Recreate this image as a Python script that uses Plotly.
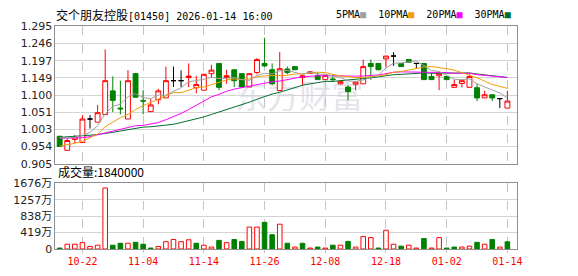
import plotly.graph_objects as go
import numpy as np

dates = ["10-17","10-20","10-21","10-22","10-23","10-24","10-27","10-28","10-30","10-31",
         "11-03","11-04","11-05","11-06","11-07","11-10","11-11","11-12","11-13","11-14",
         "11-17","11-18","11-19","11-20","11-21","11-24","11-25","11-26","11-27","11-28",
         "12-01","12-02","12-03","12-04","12-05","12-08","12-09","12-10","12-11","12-12",
         "12-15","12-16","12-17","12-18","12-19","12-22","12-23","12-24","12-29","12-30",
         "12-31","01-02","01-05","01-06","01-07","01-08","01-09","01-12","01-13","01-14"]

opens = [0.983,0.943,0.974,0.965,1.032,1.023,1.045,1.112,1.063,1.032,
         1.161,1.084,1.053,1.087,1.092,1.141,1.141,1.150,1.121,1.114,
         1.161,1.190,1.150,1.172,1.161,1.123,1.164,1.190,1.172,1.113,
         1.174,1.181,1.150,1.162,1.156,1.144,1.146,1.132,1.123,1.131,
         1.132,1.190,1.190,1.203,1.211,1.190,1.201,1.190,1.190,1.153,
         1.155,1.153,1.122,1.133,1.122,1.121,1.092,1.101,1.090,1.063]
highs = [0.983,0.978,0.987,1.043,1.043,1.072,1.230,1.153,1.141,1.171,
         1.163,1.114,1.089,1.118,1.181,1.181,1.170,1.190,1.155,1.161,
         1.186,1.190,1.172,1.172,1.161,1.161,1.205,1.263,1.190,1.222,
         1.181,1.181,1.159,1.168,1.164,1.159,1.159,1.141,1.128,1.139,
         1.201,1.201,1.190,1.211,1.222,1.190,1.201,1.190,1.190,1.162,
         1.162,1.153,1.144,1.141,1.159,1.132,1.112,1.101,1.090,1.112]
lows = [0.954,0.943,0.963,0.965,1.005,1.023,1.045,1.052,1.045,1.032,
        1.094,1.045,1.053,1.074,1.092,1.123,1.123,1.123,1.105,1.114,
        1.150,1.114,1.132,1.123,1.123,1.123,1.159,1.180,1.128,1.113,
        1.159,1.172,1.128,1.160,1.144,1.144,1.137,1.130,1.085,1.114,
        1.132,1.144,1.172,1.180,1.183,1.181,1.193,1.175,1.144,1.144,
        1.114,1.144,1.122,1.122,1.122,1.083,1.092,1.083,1.063,1.063]
closes = [0.954,0.971,0.981,1.032,1.032,1.050,1.141,1.085,1.061,1.141,
          1.094,1.083,1.072,1.112,1.141,1.141,1.141,1.154,1.130,1.159,
          1.171,1.122,1.155,1.141,1.123,1.161,1.201,1.183,1.132,1.175,
          1.164,1.172,1.155,1.166,1.144,1.156,1.144,1.139,1.110,1.137,
          1.181,1.181,1.172,1.211,1.211,1.181,1.193,1.190,1.144,1.144,
          1.162,1.144,1.130,1.141,1.153,1.092,1.101,1.092,1.090,1.083]

ma5 = [0.979,0.978,0.980,0.985,0.994,1.013,1.047,1.068,1.074,1.096,
       1.104,1.093,1.090,1.100,1.100,1.110,1.121,1.138,1.141,1.145,
       1.151,1.147,1.148,1.150,1.144,1.142,1.156,1.162,1.160,1.169,
       1.170,1.164,1.159,1.165,1.160,1.159,1.154,1.150,1.140,1.139,
       1.143,1.151,1.157,1.177,1.191,1.191,1.194,1.197,1.184,1.170,
       1.167,1.157,1.145,1.144,1.146,1.132,1.123,1.116,1.106,1.092]
ma10 = [0.955,0.958,0.963,0.969,0.978,0.989,1.010,1.024,1.036,1.045,
        1.059,1.070,1.079,1.087,1.098,1.107,1.107,1.114,1.121,1.123,
        1.130,1.135,1.143,1.146,1.144,1.146,1.152,1.155,1.155,1.157,
        1.156,1.160,1.160,1.163,1.165,1.164,1.159,1.154,1.153,1.149,
        1.151,1.152,1.154,1.158,1.165,1.167,1.172,1.177,1.180,1.181,
        1.179,1.175,1.171,1.164,1.158,1.149,1.140,1.130,1.125,1.119]
ma20 = [0.977,0.977,0.978,0.979,0.982,0.987,0.993,0.998,1.004,1.009,
        1.013,1.014,1.017,1.022,1.030,1.038,1.048,1.059,1.071,1.084,
        1.095,1.102,1.111,1.117,1.121,1.127,1.130,1.135,1.138,1.140,
        1.143,1.148,1.152,1.154,1.155,1.155,1.156,1.155,1.154,1.153,
        1.154,1.156,1.157,1.161,1.165,1.166,1.166,1.166,1.166,1.165,
        1.165,1.164,1.162,1.161,1.162,1.158,1.156,1.154,1.153,1.150]
ma30 = [0.980,0.981,0.982,0.984,0.986,0.988,0.990,0.994,0.998,1.002,
        1.006,1.009,1.010,1.012,1.014,1.017,1.022,1.027,1.032,1.038,
        1.045,1.052,1.058,1.064,1.072,1.080,1.088,1.096,1.103,1.108,
        1.115,1.122,1.128,1.132,1.136,1.139,1.139,1.141,1.143,1.143,
        1.146,1.149,1.152,1.156,1.158,1.159,1.161,1.162,1.163,1.162,
        1.162,1.163,1.162,1.162,1.163,1.160,1.157,1.154,1.153,1.150]

# volume in 万股
volumes = [24,121,121,162,65,97,1555,97,146,146,
           170,121,24,65,186,243,186,235,146,97,
           49,219,162,243,194,559,559,680,364,632,
           146,49,146,24,49,24,97,97,194,49,
           316,291,24,478,121,73,97,24,267,24,
           291,24,49,49,73,170,121,243,49,184]
vol_up = [0,1,1,1,1,1,1,0,0,1,
          0,0,0,1,1,1,1,1,0,1,
          1,0,1,0,0,1,1,0,0,1,
          0,1,0,1,0,1,0,1,0,1,
          1,1,0,1,1,0,1,1,0,1,
          1,0,0,1,1,0,1,0,1,0]

price_ticklabels = ["0.905","0.954","1.003","1.051","1.100","1.149","1.197","1.246","1.295"]
vol_ticklabels = ["0","419万","838万","1257万","1676万"]
date_ticks = ["10-22","11-04","11-14","11-26","12-08","12-18","01-02","01-14"]
title_name = "交个朋友控股"
title_rest = "[01450] 2026-01-14 16:00"
vol_title = "成交量:1840000"
ma_names = ["5PMA", "10PMA", "20PMA", "30PMA"]

RED = "#ff0000"
GREEN = "#008000"
MA_COLORS = ["#a0a0a0", "#f0a000", "#ff00ff", "#006f2f"]
W, H = 578, 276

def px_y(p):
    return 1 - p / H

n = len(dates)
up = [i for i in range(n) if closes[i] > opens[i]]
down = [i for i in range(n) if closes[i] < opens[i]]
doji = [i for i in range(n) if closes[i] == opens[i]]

def sub(lst, idx):
    return [lst[i] for i in idx]

fig = go.Figure()

def candle(idx, inc_line, inc_fill, dec_line, dec_fill):
    fig.add_trace(go.Candlestick(
        x=sub(dates, idx), open=sub(opens, idx), high=sub(highs, idx),
        low=sub(lows, idx), close=sub(closes, idx),
        increasing=dict(line=dict(color=inc_line, width=1), fillcolor=inc_fill),
        decreasing=dict(line=dict(color=dec_line, width=1), fillcolor=dec_fill),
        whiskerwidth=0, xaxis="x", yaxis="y", showlegend=False, hoverinfo="skip"))

candle(up, RED, "white", GREEN, GREEN)
candle(down, RED, "white", GREEN, GREEN)
candle(doji, "#000000", "#000000", "#000000", "#000000")

for vals, col in zip([ma30, ma20, ma10, ma5], MA_COLORS[::-1]):
    fig.add_trace(go.Scatter(x=dates, y=vals, mode="lines",
                             line=dict(color=col, width=1),
                             xaxis="x", yaxis="y", showlegend=False, hoverinfo="skip"))

fig.add_trace(go.Bar(
    x=dates, y=volumes, width=0.6,
    marker=dict(color=["white" if u else GREEN for u in vol_up],
                line=dict(color=[RED if u else GREEN for u in vol_up], width=1)),
    xaxis="x2", yaxis="y2", showlegend=False, hoverinfo="skip"))

xdom = [56 / W, 522 / W]
xr = [-0.56, 60.21]
grid_col = "#d4d4d4"
line_col = "#8e8e8e"
tick_font = dict(family="DejaVu Sans, Noto Sans CJK SC", size=11, color="#222222")

common_x = dict(domain=xdom, range=xr, type="category", categoryorder="array",
                categoryarray=dates, tickvals=date_ticks, showgrid=True,
                gridcolor="#c4c4c4", griddash="dash", gridwidth=1, showline=True,
                mirror=True, linecolor=line_col, zeroline=False, fixedrange=True,
                rangeslider=dict(visible=False))

fig.update_layout(
    width=W, height=H, margin=dict(l=0, r=0, t=0, b=0), autosize=False,
    paper_bgcolor="white", plot_bgcolor="white",
    boxgap=0.2, boxgroupgap=0.2, boxmode="overlay", bargap=0.4,
    xaxis=dict(anchor="y", showticklabels=False, ticks="", **common_x),
    yaxis=dict(domain=[px_y(165.5), px_y(21.5)], range=[0.905, 1.295],
               tickvals=list(np.linspace(0.905, 1.295, len(price_ticklabels))),
               ticktext=price_ticklabels, showgrid=True, gridcolor=grid_col,
               showline=True, mirror=True, linecolor=line_col, zeroline=False,
               ticks="", tickfont=tick_font, fixedrange=True),
    xaxis2=dict(anchor="y2", showticklabels=True, ticks="outside", ticklen=3,
                tickcolor="#c4c4c4",
                tickfont=dict(family="DejaVu Sans Mono", size=10, color=RED),
                **common_x),
    yaxis2=dict(domain=[px_y(255), px_y(186)], range=[0, 1676],
                tickvals=list(np.linspace(0, 1676, len(vol_ticklabels))),
                ticktext=vol_ticklabels, showgrid=True, gridcolor=grid_col,
                showline=True, mirror=True, linecolor=line_col, zeroline=False,
                ticks="", tickfont=tick_font, fixedrange=True),
)

legend_text = "  ".join(
    f"{name}<span style='color:{col}'>■</span>" for name, col in zip(ma_names, MA_COLORS))

fig.update_layout(annotations=[
    dict(xref="paper", yref="paper", x=55 / W, y=px_y(9), xanchor="left", yanchor="middle",
         showarrow=False,
         text=f"<span style='font-family:Noto Sans CJK SC;font-size:12px'>{title_name}</span>{title_rest}",
         font=dict(family="DejaVu Sans Mono, Noto Sans CJK SC", size=10, color="#000000")),
    dict(xref="paper", yref="paper", x=337 / W, y=px_y(9), xanchor="left", yanchor="middle",
         showarrow=False, text=legend_text,
         font=dict(family="DejaVu Sans Mono", size=10, color="#000000")),
    dict(xref="paper", yref="paper", x=57 / W, y=px_y(174), xanchor="left", yanchor="middle",
         showarrow=False, text=vol_title,
         font=dict(family="Noto Sans CJK SC", size=12, color="#000000")),
])

fig.add_shape(type="rect", xref="paper", yref="paper",
              x0=215 / W, x1=390 / W, y0=px_y(115), y1=px_y(80),
              line=dict(width=0), fillcolor="rgba(0,0,0,0)", layer="below",
              label=dict(text="东方财富", textposition="middle center",
                         font=dict(family="Noto Sans CJK SC", size=32, color="#e4e4ea")))

fig.write_html("out.html")
